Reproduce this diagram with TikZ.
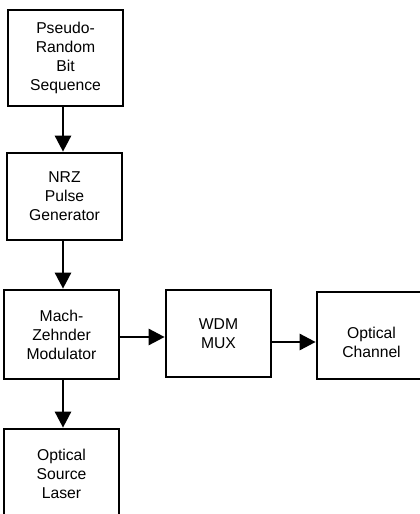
\documentclass[tikz,border=0pt]{standalone}
\usepackage{fontspec}
\setmainfont{Liberation Sans}
\usetikzlibrary{arrows.meta}
\begin{document}
\begin{tikzpicture}[x=1pt,y=-1pt,
  blocktext/.style={align=center, font=\fontsize{15.7}{19}\selectfont, inner sep=0pt},
  blockbox/.style={draw=black, line width=2.7pt, fill=white, blocktext},
  flow/.style={line width=2.7pt, -{Triangle[length=16pt,width=16pt]}}]
% page frame
\clip (0,0) rectangle (420,514);
\fill[white] (0,0) rectangle (420,514);

% blocks of the transmitter chain
\node[blockbox, minimum width=115pt, minimum height=96pt] (prbs) at (65.5,58)
  {Pseudo-\\Random\\Bit\\Sequence};
\node[blockbox, minimum width=115pt, minimum height=87pt] (nrz) at (64.5,196.5)
  {NRZ\\Pulse\\Generator};
\node[blockbox, minimum width=115pt, minimum height=89pt] (mzm) at (61.5,334.5)
  {Mach-\\Zehnder\\Modulator};
\node[blockbox, minimum width=105pt, minimum height=87pt] (wdm) at (218.5,333.5)
  {WDM\\MUX};
\node[blockbox, minimum width=109pt, minimum height=87pt,
  label={[blocktext, yshift=-7pt]center:Optical\\Channel}] (chan) at (371.5,335.5) {};
\node[blockbox, minimum width=115pt, minimum height=90pt] (laser) at (61.5,474)
  {Optical\\Source\\Laser};

% guide lines for the connectors
\coordinate (ax) at (63,0);
\coordinate (ay1) at (0,337);
\coordinate (ay2) at (0,342);

% connectors
\draw[flow] (prbs.south -| ax) -- (nrz.north -| ax);
\draw[flow] (nrz.south -| ax) -- (mzm.north -| ax);
\draw[flow] (mzm.south -| ax) -- (laser.north -| ax);
\draw[flow] (mzm.east |- ay1) -- (wdm.west |- ay1);
\draw[flow] (wdm.east |- ay2) -- (chan.west |- ay2);
\end{tikzpicture}
\end{document}
